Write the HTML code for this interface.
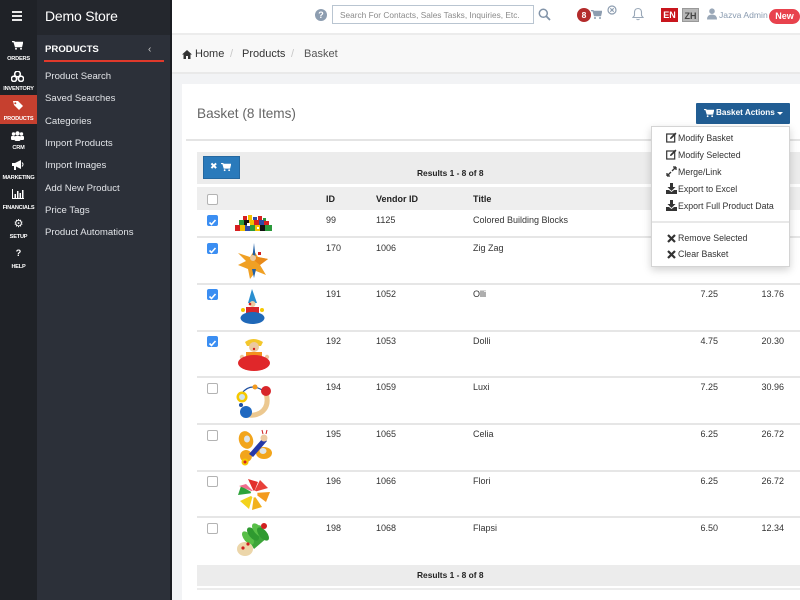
<!DOCTYPE html>
<html><head><meta charset="utf-8">
<style>
*{margin:0;padding:0;box-sizing:border-box}
body{width:800px;height:600px;overflow:hidden;position:relative;background:#fff;font-family:"Liberation Sans",Arial,sans-serif;color:#333}
.a{position:absolute}
.sl{position:absolute;left:0;width:37px;text-align:center;color:#fff;font-weight:bold;font-size:5.6px;letter-spacing:-0.2px;line-height:7px}
.mi{position:absolute;left:45px;color:#e2e4e8;font-size:9.6px;line-height:12px}
.t{position:absolute;font-size:9px;line-height:20px;height:20px;color:#333;white-space:nowrap}
.th{position:absolute;font-size:9px;font-weight:bold;line-height:12px;color:#222}
.pr{position:absolute;font-size:9px;line-height:20px;height:20px;text-align:right;width:50px;color:#333}
.cb{position:absolute;left:207px;width:11px;height:11px;border-radius:2px;border:1px solid #b3b3b3;background:#fff}
.cc{position:absolute;left:207px;width:11px;height:11px;border-radius:2px;background:#3b8ef2}
.sep{position:absolute;left:197px;width:603px;height:2px;background:#e6e6e6}
.dd{position:absolute;left:678px;font-size:8.8px;line-height:12px;color:#333;white-space:nowrap}
.di{position:absolute;left:666px;width:11px;height:11px}
</style></head><body>

<!-- Sidebar -->
<div class="a" style="left:0;top:0;width:37px;height:600px;background:#1f2227"></div>
<div class="a" style="left:37px;top:0;width:134px;height:600px;background:#2c3039"></div>
<div class="a" style="left:37px;top:0;width:134px;height:35px;background:#24272d"></div>
<div class="a" style="left:170px;top:0;width:2px;height:600px;background:#1b1d22"></div>

<!-- hamburger -->
<div class="a" style="left:12px;top:11px;width:10px;height:2px;background:#e8e8e8"></div>
<div class="a" style="left:12px;top:15px;width:10px;height:2px;background:#e8e8e8"></div>
<div class="a" style="left:12px;top:19px;width:10px;height:2px;background:#e8e8e8"></div>

<!-- sidebar icons -->
<svg class="a" style="left:12px;top:41px" width="11" height="9" viewBox="0 0 11 9"><path d="M0 0.5h2l1.5 5h6l1-4H3" fill="none" stroke="#fff" stroke-width="1.4"/><rect x="3" y="2" width="7" height="3" fill="#fff"/><circle cx="4" cy="7.8" r="1" fill="#fff"/><circle cx="9" cy="7.8" r="1" fill="#fff"/></svg>
<div class="sl" style="top:56px">ORDERS</div>
<svg class="a" style="left:11px;top:71px" width="13" height="11" viewBox="0 0 13 11"><circle cx="6.5" cy="3" r="2.8" fill="none" stroke="#fff" stroke-width="1.6"/><circle cx="3" cy="7.8" r="2.6" fill="none" stroke="#fff" stroke-width="1.6"/><circle cx="10" cy="7.8" r="2.6" fill="none" stroke="#fff" stroke-width="1.6"/></svg>
<div class="sl" style="top:86px">INVENTORY</div>
<div class="a" style="left:0;top:95px;width:37px;height:29px;background:#c6402f"></div>
<svg class="a" style="left:12px;top:100px" width="12" height="11" viewBox="0 0 12 11"><path d="M1 1h5l5 5-4 4-5-5z" fill="#fff"/><circle cx="3.3" cy="3.3" r="1" fill="#c6402f"/></svg>
<div class="sl" style="top:116px">PRODUCTS</div>
<svg class="a" style="left:11px;top:131px" width="13" height="10" viewBox="0 0 13 10"><circle cx="6.5" cy="2.5" r="2.2" fill="#fff"/><circle cx="2.5" cy="3" r="1.7" fill="#fff"/><circle cx="10.5" cy="3" r="1.7" fill="#fff"/><rect x="3.5" y="5" width="6" height="5" rx="1.5" fill="#fff"/><rect x="0" y="5" width="4" height="4" rx="1" fill="#fff"/><rect x="9" y="5" width="4" height="4" rx="1" fill="#fff"/></svg>
<div class="sl" style="top:145px">CRM</div>
<svg class="a" style="left:12px;top:160px" width="12" height="10" viewBox="0 0 12 10"><path d="M0 3h3l6-3v9L3 6H0z" fill="#fff"/><rect x="2" y="6" width="2" height="4" fill="#fff"/><path d="M10 2.5q2 2 0 4" stroke="#fff" fill="none"/></svg>
<div class="sl" style="top:175px">MARKETING</div>
<svg class="a" style="left:12px;top:189px" width="12" height="10" viewBox="0 0 12 10"><path d="M0.5 0v9.5H12" stroke="#fff" fill="none"/><rect x="2.5" y="5" width="1.5" height="4" fill="#fff"/><rect x="5" y="2" width="1.5" height="7" fill="#fff"/><rect x="7.5" y="4" width="1.5" height="5" fill="#fff"/><rect x="10" y="1" width="1.5" height="8" fill="#fff"/></svg>
<div class="sl" style="top:205px">FINANCIALS</div>
<div class="a" style="left:0;top:217px;width:37px;text-align:center;color:#fff;font-size:11px;line-height:13px;font-family:'DejaVu Sans',sans-serif">⚙</div>
<div class="sl" style="top:234px">SETUP</div>
<div class="a" style="left:0;top:248px;width:37px;text-align:center;color:#fff;font-size:9px;font-weight:bold;line-height:11px">?</div>
<div class="sl" style="top:264px">HELP</div>

<!-- menu column -->
<div class="a" style="left:45px;top:7px;color:#fff;font-size:14px;line-height:18px;letter-spacing:-0.2px">Demo Store</div>
<div class="a" style="left:45px;top:44px;color:#fff;font-size:9.6px;font-weight:bold;line-height:12px">PRODUCTS</div>
<div class="a" style="left:148px;top:44px;color:#ccc;font-size:10px;line-height:12px">‹</div>
<div class="a" style="left:44px;top:60px;width:120px;height:2px;background:#e0392b"></div>
<div class="mi" style="top:71px">Product Search</div>
<div class="mi" style="top:93px">Saved Searches</div>
<div class="mi" style="top:116px">Categories</div>
<div class="mi" style="top:138px">Import Products</div>
<div class="mi" style="top:160px">Import Images</div>
<div class="mi" style="top:183px">Add New Product</div>
<div class="mi" style="top:205px">Price Tags</div>
<div class="mi" style="top:227px">Product Automations</div>

<!-- Top bar -->
<div class="a" style="left:172px;top:33px;width:628px;height:2px;background:#ececec"></div>
<div class="a" style="left:315px;top:9px;width:12px;height:12px;border-radius:50%;background:#8d9db0;color:#fff;font-size:9px;font-weight:bold;text-align:center;line-height:12px">?</div>
<div class="a" style="left:332px;top:5px;width:202px;height:19px;border:1px solid #b9c5d1;background:#fff"></div>
<div class="a" style="left:340px;top:9px;font-size:8.3px;line-height:12px;color:#8a8a8a;white-space:nowrap">Search For Contacts, Sales Tasks, Inquiries, Etc.</div>
<svg class="a" style="left:538px;top:8px" width="13" height="13" viewBox="0 0 13 13"><circle cx="5.3" cy="5.3" r="4" fill="none" stroke="#8193a8" stroke-width="1.5"/><path d="M8.3 8.3L12 12" stroke="#8193a8" stroke-width="1.8"/></svg>
<div class="a" style="left:577px;top:8px;width:14px;height:14px;border-radius:50%;background:#b32b2b;color:#fff;font-size:8.5px;font-weight:bold;text-align:center;line-height:14px">8</div>
<svg class="a" style="left:591px;top:10px" width="11" height="10" viewBox="0 0 11 10"><path d="M0 0.5h2l1.5 5h6l1-4H3" fill="none" stroke="#8d9db0" stroke-width="1.4"/><rect x="3" y="2" width="7" height="3" fill="#8d9db0"/><circle cx="4" cy="8" r="1" fill="#8d9db0"/><circle cx="9" cy="8" r="1" fill="#8d9db0"/></svg>
<svg class="a" style="left:607px;top:5px" width="10" height="10" viewBox="0 0 10 10"><circle cx="5" cy="5" r="4" fill="none" stroke="#8d9db0" stroke-width="1.2"/><path d="M3.3 3.3l3.4 3.4M6.7 3.3l-3.4 3.4" stroke="#8d9db0" stroke-width="1.1"/></svg>
<svg class="a" style="left:632px;top:7px" width="12" height="14" viewBox="0 0 12 14"><path d="M6 1.5c-2.5 0-3.5 2-3.5 4v3L1 10.5h10L9.5 8.5v-3c0-2-1-4-3.5-4z" fill="none" stroke="#9aa8b8" stroke-width="1.1"/><path d="M4.5 12q1.5 1.5 3 0" stroke="#9aa8b8" fill="none"/></svg>
<div class="a" style="left:661px;top:8px;width:17px;height:14px;background:#c8161d;color:#fff;font-size:9px;font-weight:bold;text-align:center;line-height:14px">EN</div>
<div class="a" style="left:682px;top:8px;width:17px;height:14px;background:#b8b8b8;color:#444;font-size:9px;font-weight:bold;text-align:center;line-height:14px;border:1px solid #999">ZH</div>
<svg class="a" style="left:707px;top:8px" width="10" height="12" viewBox="0 0 10 12"><circle cx="5" cy="3.2" r="2.8" fill="#9aa8b8"/><path d="M0 11.5q0-5 5-5t5 5z" fill="#9aa8b8"/></svg>
<div class="a" style="left:719px;top:9px;font-size:8.6px;line-height:12px;color:#8a9bb0;white-space:nowrap">Jazva Admin</div>
<div class="a" style="left:769px;top:9px;width:31px;height:15px;border-radius:8px;background:#e8424d;color:#fff;font-size:9px;font-weight:bold;text-align:center;line-height:15px">New</div>

<!-- Breadcrumb -->
<div class="a" style="left:172px;top:35px;width:628px;height:37px;background:#f8f8f8"></div>
<div class="a" style="left:172px;top:72px;width:628px;height:2px;background:#e9e9e9"></div>
<svg class="a" style="left:182px;top:50px" width="10" height="9" viewBox="0 0 10 9"><path d="M5 0L0 4.5h1.5V9h2.5V6h2v3h2.5V4.5H10z" fill="#333"/></svg>
<div class="a" style="left:195px;top:47px;font-size:11px;line-height:14px;color:#333">Home</div>
<div class="a" style="left:230px;top:47px;font-size:11px;line-height:14px;color:#c8c8c8">/</div>
<div class="a" style="left:242px;top:47px;font-size:11px;line-height:14px;color:#333">Products</div>
<div class="a" style="left:291px;top:47px;font-size:11px;line-height:14px;color:#c8c8c8">/</div>
<div class="a" style="left:304px;top:47px;font-size:11px;line-height:14px;color:#555">Basket</div>

<!-- Content bg -->
<div class="a" style="left:172px;top:74px;width:628px;height:526px;background:#f2f3f5"></div>
<div class="a" style="left:182px;top:84px;width:618px;height:516px;background:#fff"></div>

<div class="a" style="left:197px;top:105px;font-size:13.6px;line-height:18px;color:#666;white-space:nowrap">Basket (8 Items)</div>
<div class="a" style="left:186px;top:139px;width:614px;height:2px;background:#e4e4e4"></div>

<!-- Basket actions button -->
<div class="a" style="left:696px;top:103px;width:94px;height:21px;background:#215d93;border-radius:1px"></div>
<svg class="a" style="left:704px;top:109px" width="10" height="9" viewBox="0 0 11 10"><path d="M0 0.5h2l1.5 5h6l1-4H3" fill="none" stroke="#fff" stroke-width="1.4"/><rect x="3" y="2" width="7" height="3" fill="#fff"/><circle cx="4" cy="8" r="1" fill="#fff"/><circle cx="9" cy="8" r="1" fill="#fff"/></svg>
<div class="a" style="left:716px;top:107px;font-size:8.2px;font-weight:bold;line-height:12px;color:#fff;white-space:nowrap">Basket Actions</div>
<svg class="a" style="left:777px;top:112px" width="6" height="4" viewBox="0 0 6 4"><path d="M0 0h6L3 3z" fill="#fff"/></svg>

<!-- Toolbar -->
<div class="a" style="left:197px;top:152px;width:603px;height:32px;background:#ececec"></div>
<div class="a" style="left:203px;top:156px;width:37px;height:23px;background:#2a7abb;border:1px solid #2568a0"></div>
<div class="a" style="left:210px;top:161px;font-size:9px;font-weight:bold;line-height:12px;color:#fff;font-family:'DejaVu Sans',sans-serif">✖</div>
<svg class="a" style="left:221px;top:163px" width="10" height="9" viewBox="0 0 11 10"><path d="M0 0.5h2l1.5 5h6l1-4H3" fill="none" stroke="#fff" stroke-width="1.4"/><rect x="3" y="2" width="7" height="3" fill="#fff"/><circle cx="4" cy="8" r="1" fill="#fff"/><circle cx="9" cy="8" r="1" fill="#fff"/></svg>
<div class="a" style="left:417px;top:167px;font-size:8.4px;font-weight:bold;line-height:12px;color:#222;white-space:nowrap">Results 1 - 8 of 8</div>

<!-- Header row -->
<div class="a" style="left:197px;top:187px;width:603px;height:23px;background:#eeeeee"></div>
<div class="cb" style="top:194px"></div>
<div class="th" style="left:326px;top:193px">ID</div>
<div class="th" style="left:376px;top:193px">Vendor ID</div>
<div class="th" style="left:473px;top:193px">Title</div>

<!-- Row separators -->
<div class="sep" style="top:236px"></div>
<div class="sep" style="top:283px"></div>
<div class="sep" style="top:330px"></div>
<div class="sep" style="top:376px"></div>
<div class="sep" style="top:423px"></div>
<div class="sep" style="top:470px"></div>
<div class="sep" style="top:516px"></div>

<!-- Row 1 -->
<div class="cc" style="top:215px"><svg width="11" height="11" viewBox="0 0 11 11"><path d="M2.5 5.5l2 2 4-4.5" stroke="#fff" stroke-width="1.6" fill="none"/></svg></div>
<div class="t" style="left:326px;top:210px">99</div>
<div class="t" style="left:376px;top:210px">1125</div>
<div class="t" style="left:473px;top:210px">Colored Building Blocks</div>
<svg class="a" style="left:235px;top:214px" width="38" height="19" viewBox="0 0 38 19">
<rect x="8" y="2" width="4" height="4" fill="#d62020"/><rect x="13" y="1" width="4" height="5" fill="#f2c200"/><rect x="18" y="3" width="4" height="3" fill="#2d4aa8"/><rect x="23" y="2" width="4" height="4" fill="#d62020"/><rect x="28" y="4" width="3" height="3" fill="#2b9a3b"/>
<rect x="4" y="6" width="5" height="5" fill="#2b9a3b"/><rect x="9" y="6" width="5" height="5" fill="#111"/><rect x="14" y="6" width="5" height="5" fill="#f2c200"/><rect x="19" y="6" width="5" height="5" fill="#d62020"/><rect x="24" y="6" width="5" height="5" fill="#2d4aa8"/><rect x="29" y="7" width="5" height="4" fill="#d62020"/>
<rect x="0" y="11" width="5" height="6" fill="#d62020"/><rect x="5" y="11" width="5" height="6" fill="#f2c200"/><rect x="10" y="11" width="5" height="6" fill="#2d4aa8"/><rect x="15" y="11" width="5" height="6" fill="#2b9a3b"/><rect x="20" y="11" width="5" height="6" fill="#f2c200"/><rect x="25" y="11" width="5" height="6" fill="#111"/><rect x="30" y="11" width="7" height="6" fill="#2b9a3b"/>
<rect x="12" y="9" width="3" height="3" fill="#fff"/><rect x="22" y="13" width="2" height="2" fill="#fff"/></svg>

<!-- Row 2 -->
<div class="cc" style="top:243px"><svg width="11" height="11" viewBox="0 0 11 11"><path d="M2.5 5.5l2 2 4-4.5" stroke="#fff" stroke-width="1.6" fill="none"/></svg></div>
<div class="t" style="left:326px;top:238px">170</div>
<div class="t" style="left:376px;top:238px">1006</div>
<div class="t" style="left:473px;top:238px">Zig Zag</div>
<svg class="a" style="left:236px;top:241px" width="33" height="38" viewBox="0 0 33 38">
<path d="M2 12l12 4 4-6 4 6 10 2-8 6 6 10-10-4-6 8-2-10-10-4 8-4z" fill="#f0a024"/><path d="M14 16l8 0 10 2-8 6z" fill="#e88a1a"/>
<path d="M18 2l1.5 13h-3z" fill="#1f5fa6"/><circle cx="17" cy="17" r="3" fill="#e9c9a0"/><rect x="22" y="11" width="3" height="3" fill="#d02020"/><path d="M16 28l2 9 2-9z" fill="#1f5fa6"/></svg>

<!-- Row 3 -->
<div class="cc" style="top:289px"><svg width="11" height="11" viewBox="0 0 11 11"><path d="M2.5 5.5l2 2 4-4.5" stroke="#fff" stroke-width="1.6" fill="none"/></svg></div>
<div class="t" style="left:326px;top:284px">191</div>
<div class="t" style="left:376px;top:284px">1052</div>
<div class="t" style="left:473px;top:284px">Olli</div>
<div class="pr" style="left:668px;top:284px">7.25</div>
<div class="pr" style="left:734px;top:284px">13.76</div>
<svg class="a" style="left:238px;top:288px" width="30" height="40" viewBox="0 0 30 40">
<path d="M14 1l5 14h-9z" fill="#2a8fd0"/><circle cx="14.5" cy="16" r="3" fill="#ecc9a0"/><circle cx="12" cy="16" r="1.3" fill="#d02020"/>
<rect x="8" y="19" width="13" height="6" fill="#d8262a"/><circle cx="5" cy="22" r="2" fill="#f5c800"/><circle cx="24" cy="22" r="2" fill="#f5c800"/>
<ellipse cx="14.5" cy="30" rx="12" ry="6" fill="#1f68b8"/></svg>

<!-- Row 4 -->
<div class="cc" style="top:336px"><svg width="11" height="11" viewBox="0 0 11 11"><path d="M2.5 5.5l2 2 4-4.5" stroke="#fff" stroke-width="1.6" fill="none"/></svg></div>
<div class="t" style="left:326px;top:331px">192</div>
<div class="t" style="left:376px;top:331px">1053</div>
<div class="t" style="left:473px;top:331px">Dolli</div>
<div class="pr" style="left:668px;top:331px">4.75</div>
<div class="pr" style="left:734px;top:331px">20.30</div>
<svg class="a" style="left:236px;top:338px" width="37" height="34" viewBox="0 0 37 34">
<path d="M9 4q8-6 18 0l-2 4h-14z" fill="#f3c72c"/><circle cx="18" cy="9" r="5" fill="#ecc9a0"/><circle cx="18" cy="11" r="1.2" fill="#d02020"/>
<rect x="10" y="14" width="16" height="5" fill="#f4901e"/><circle cx="6" cy="19" r="2.2" fill="#ecc9a0"/><circle cx="31" cy="19" r="2.2" fill="#ecc9a0"/>
<ellipse cx="18" cy="25" rx="16" ry="8" fill="#e0272a"/></svg>

<!-- Row 5 -->
<div class="cb" style="top:383px"></div>
<div class="t" style="left:326px;top:377px">194</div>
<div class="t" style="left:376px;top:377px">1059</div>
<div class="t" style="left:473px;top:377px">Luxi</div>
<div class="pr" style="left:668px;top:377px">7.25</div>
<div class="pr" style="left:734px;top:377px">30.96</div>
<svg class="a" style="left:235px;top:381px" width="38" height="38" viewBox="0 0 38 38">
<path d="M31 12q4 14-6 20q-8 4-14 1" fill="none" stroke="#ecc890" stroke-width="5"/>
<path d="M7 12q10-12 24 0" fill="none" stroke="#1f4fa0" stroke-width="1.2"/>
<circle cx="31" cy="10" r="5" fill="#d8262a"/><circle cx="20" cy="6" r="2.5" fill="#f39a1e"/>
<circle cx="7" cy="16" r="5.5" fill="#f5c800"/><circle cx="7" cy="16" r="3" fill="#cfe3ee"/>
<circle cx="6" cy="24" r="2" fill="#1f4fa0"/><circle cx="11" cy="31" r="6" fill="#1f68c0"/></svg>

<!-- Row 6 -->
<div class="cb" style="top:430px"></div>
<div class="t" style="left:326px;top:424px">195</div>
<div class="t" style="left:376px;top:424px">1065</div>
<div class="t" style="left:473px;top:424px">Celia</div>
<div class="pr" style="left:668px;top:424px">6.25</div>
<div class="pr" style="left:734px;top:424px">26.72</div>
<svg class="a" style="left:236px;top:428px" width="37" height="39" viewBox="0 0 37 39">
<ellipse cx="10" cy="12" rx="7" ry="9" fill="#f2a51c" transform="rotate(-20 10 12)"/><ellipse cx="11" cy="11" rx="3" ry="3.5" fill="#dfe6ea"/>
<ellipse cx="28" cy="25" rx="8" ry="6" fill="#f2a51c"/><ellipse cx="27" cy="23" rx="3.5" ry="3" fill="#dfe6ea"/>
<ellipse cx="10" cy="28" rx="6" ry="6" fill="#f2a51c"/>
<path d="M13 26l14-16 4 3-14 16z" fill="#2639a8"/><circle cx="28" cy="10" r="3.5" fill="#ecc9a0"/><path d="M27 6l-1-4M30 6l1-4" stroke="#d02020"/>
<circle cx="9" cy="34" r="3.5" fill="#f5c800"/><circle cx="9" cy="34" r="1.5" fill="#d02020"/></svg>

<!-- Row 7 -->
<div class="cb" style="top:476px"></div>
<div class="t" style="left:326px;top:471px">196</div>
<div class="t" style="left:376px;top:471px">1066</div>
<div class="t" style="left:473px;top:471px">Flori</div>
<div class="pr" style="left:668px;top:471px">6.25</div>
<div class="pr" style="left:734px;top:471px">26.72</div>
<svg class="a" style="left:236px;top:476px" width="37" height="36" viewBox="0 0 37 36">
<path d="M18 16l-6-13 10 3z" fill="#e2302c"/><path d="M18 16l6-12 8 8z" fill="#e8403a"/>
<path d="M18 17l16-1-4 10z" fill="#f39a1e"/><path d="M18 19l8 12-10 3z" fill="#f2b11c"/>
<path d="M17 19l-4 14-9-8z" fill="#f3d21c"/><path d="M17 17l-15 2 3-9z" fill="#2da33a"/>
<path d="M18 16l-8-8-7 2z" fill="#f06e8e"/><circle cx="18" cy="18" r="3.5" fill="#fff"/></svg>

<!-- Row 8 -->
<div class="cb" style="top:523px"></div>
<div class="t" style="left:326px;top:518px">198</div>
<div class="t" style="left:376px;top:518px">1068</div>
<div class="t" style="left:473px;top:518px">Flapsi</div>
<div class="pr" style="left:668px;top:518px">6.50</div>
<div class="pr" style="left:734px;top:518px">12.34</div>
<svg class="a" style="left:236px;top:522px" width="36" height="36" viewBox="0 0 36 36">
<path d="M10 14l14-11 8 12-14 12z" fill="#3da53a"/>
<ellipse cx="12" cy="16" rx="4" ry="8" fill="#58bf48" transform="rotate(-40 12 16)"/><ellipse cx="17" cy="12" rx="4" ry="8" fill="#2f9a30" transform="rotate(-40 17 12)"/><ellipse cx="22" cy="8" rx="4" ry="8" fill="#58bf48" transform="rotate(-40 22 8)"/><ellipse cx="27" cy="12" rx="4" ry="8" fill="#2f9a30" transform="rotate(-40 27 12)"/>
<circle cx="28" cy="4" r="3" fill="#d02020"/><ellipse cx="9" cy="27" rx="8" ry="7" fill="#ecd6aa"/><circle cx="7" cy="26" r="1.6" fill="#d02020"/><circle cx="12" cy="22" r="1.6" fill="#d02020"/></svg>

<!-- Footer -->
<div class="a" style="left:197px;top:565px;width:603px;height:21px;background:#ececec"></div>
<div class="a" style="left:417px;top:569px;font-size:8.4px;font-weight:bold;line-height:12px;color:#222;white-space:nowrap">Results 1 - 8 of 8</div>
<div class="a" style="left:197px;top:588px;width:603px;height:2px;background:#ececec"></div>

<!-- Dropdown -->
<div class="a" style="left:651px;top:126px;width:139px;height:141px;background:#fff;border:1px solid #d4d4d4;box-shadow:0 3px 8px rgba(0,0,0,0.18)"></div>
<svg class="di" style="top:132px" viewBox="0 0 11 11"><rect x="0.7" y="2" width="8" height="8" fill="none" stroke="#333" stroke-width="1.2"/><path d="M4 7l1.5-0.3L10.5 1.7 9.3 0.5 4.3 5.5z" fill="#333"/></svg>
<div class="dd" style="top:132px">Modify Basket</div>
<svg class="di" style="top:149px" viewBox="0 0 11 11"><rect x="0.7" y="2" width="8" height="8" fill="none" stroke="#333" stroke-width="1.2"/><path d="M4 7l1.5-0.3L10.5 1.7 9.3 0.5 4.3 5.5z" fill="#333"/></svg>
<div class="dd" style="top:149px">Modify Selected</div>
<svg class="di" style="top:166px" viewBox="0 0 11 11"><path d="M1 10l4-4M1 10v-3M1 10h3M10 1L6 5M10 1v3M10 1H7" stroke="#333" stroke-width="1.3" fill="none"/></svg>
<div class="dd" style="top:166px">Merge/Link</div>
<svg class="di" style="top:183px" viewBox="0 0 11 11"><path d="M4 0h3v4h2.5L5.5 8 1.5 4H4z" fill="#333"/><path d="M0 7h3l2.5 2 2.5-2h3v4H0z" fill="#333"/></svg>
<div class="dd" style="top:183px">Export to Excel</div>
<svg class="di" style="top:200px" viewBox="0 0 11 11"><path d="M4 0h3v4h2.5L5.5 8 1.5 4H4z" fill="#333"/><path d="M0 7h3l2.5 2 2.5-2h3v4H0z" fill="#333"/></svg>
<div class="dd" style="top:200px">Export Full Product Data</div>
<div class="a" style="left:652px;top:221px;width:137px;height:2px;background:#e8e8e8"></div>
<svg class="di" style="top:233px" viewBox="0 0 11 11"><path d="M2 2l7 7M9 2l-7 7" stroke="#333" stroke-width="2.2"/></svg>
<div class="dd" style="top:232px">Remove Selected</div>
<svg class="di" style="top:249px" viewBox="0 0 11 11"><path d="M2 2l7 7M9 2l-7 7" stroke="#333" stroke-width="2.2"/></svg>
<div class="dd" style="top:248px">Clear Basket</div>

</body></html>
